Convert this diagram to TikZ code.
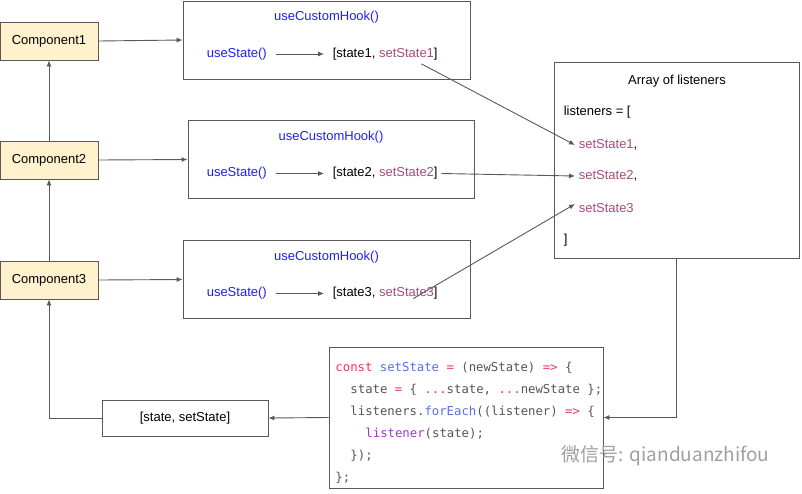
\documentclass[tikz,border=0pt]{standalone}
\usepackage{fontspec}
\setmainfont{Liberation Sans}
\newfontfamily\codefont{DejaVu Sans Mono}
\newfontfamily\cjk{Noto Sans CJK SC}
\usepackage{xcolor}
\usepackage{tikz}
\usetikzlibrary{positioning,calc,arrows.meta}
\definecolor{hookblue}{HTML}{1F1FF5}
\definecolor{berry}{HTML}{A64D79}
\definecolor{compfill}{HTML}{FFF2CC}
\definecolor{linegray}{HTML}{595959}
\definecolor{kwpink}{HTML}{F0336B}
\definecolor{fnblue}{HTML}{5C6EE6}
\definecolor{cbpurple}{HTML}{A335D1}
\definecolor{codegray}{HTML}{555555}
\newcommand{\kw}[1]{\textcolor{kwpink}{#1}}
\newcommand{\fn}[1]{\textcolor{fnblue}{#1}}

\begin{document}
\begin{tikzpicture}[x=1pt,y=-1pt,line width=0.9pt,
    font=\fontsize{13}{15}\selectfont,
    comp/.style={draw=linegray,fill=compfill,minimum width=98pt,minimum height=38pt},
    box/.style={draw=linegray},
    hook/.style={text=hookblue},
    code/.style={anchor=base west,font=\codefont\fontsize{12.3}{14}\selectfont,text=codegray,inner sep=0pt},
    arr/.style={draw=linegray,-{Latex[length=6pt,width=5pt]}}]
    \useasboundingbox (0,0) rectangle (802,493);
    \node [comp] (c1) at (49,41) {Component1};
    \node [comp] (c2) at (49,160) {Component2};
    \node [comp] (c3) at (49,280) {Component3};
    \foreach \n/\x/\y/\w in {1/326.5/40/287, 2/331/159.5/286, 3/326.5/279.5/287} {
        \node [box,minimum width=\w pt,minimum height=78pt] (hook\n) at (\x,\y) {};
        \node [hook] (title\n) at ($(hook\n.north)+(0,17)$) {useCustomHook()};
        \node [hook,anchor=west] (us\n) at (203,\y+14) {useState()};
        \node [anchor=west] (st\n) at (329,\y+14) {[state\n, \textcolor{berry}{setState\n}]};
        \draw [arr,shorten <=5pt,shorten >=5pt] (us\n.east) -- (st\n.west);
    }
    \node [box,minimum width=245pt,minimum height=196pt] (list) at (676.5,160) {};
    \node at (677,81) {Array of listeners};
    \node [anchor=west] (lhead) at (560,112) {listeners = [};
    \node [anchor=west] (ls1) at (575,145) {\textcolor{berry}{setState1},};
    \node [anchor=west] (ls2) at (575,176) {\textcolor{berry}{setState2},};
    \node [anchor=west] (ls3) at (575,208) {\textcolor{berry}{setState3}};
    \node [anchor=west] (lend) at (560,240) {]};
    \node [box,minimum width=274pt,minimum height=141pt] (code) at (466,417.5) {};
    \node [code] (code1) at (335,371) {\kw{const} \fn{setState} \kw{=} (newState) \kw{=>} \{};
    \node [code] (code2) at (350,393) {state \kw{=} \{ \kw{...}state, \kw{...}newState \};};
    \node [code] (code3) at (350,415) {listeners.\fn{forEach}((listener) \kw{=>} \{};
    \node [code] (code4) at (365,437) {\textcolor{cbpurple}{listener}(state);};
    \node [code] (code5) at (350,459) {\});};
    \node [code] (code6) at (335,481) {\};};
    \node [box,minimum width=166pt,minimum height=36pt] (ss) at (185,418) {[state, setState]};
    \node [anchor=west,text=gray!75,font=\cjk\fontsize{19}{21}\selectfont] (wm) at (558,456) {微信号: qianduanzhifou};
    \draw [arr] (c1.east) -- (hook1.west);
    \draw [arr] (c2.east) -- (hook2.west);
    \draw [arr] (c3.east) -- (hook3.west);
    \draw [arr] ([xshift=-20pt]st1.south east) -- (ls1.west);
    \draw [arr] (st2.east) -- (ls2.west);
    \draw [arr] ([xshift=-28pt,yshift=-5pt]st3.east) -- ([yshift=4pt]ls3.west);
    \draw [arr] (list.south) |- (code.east);
    \draw [arr] (code.west) -- (ss.east);
    \draw [arr] (ss.west) -| (c3.south);
    \draw [arr] (c3.north) -- (c2.south);
    \draw [arr] (c2.north) -- (c1.south);
\end{tikzpicture}
\end{document}
